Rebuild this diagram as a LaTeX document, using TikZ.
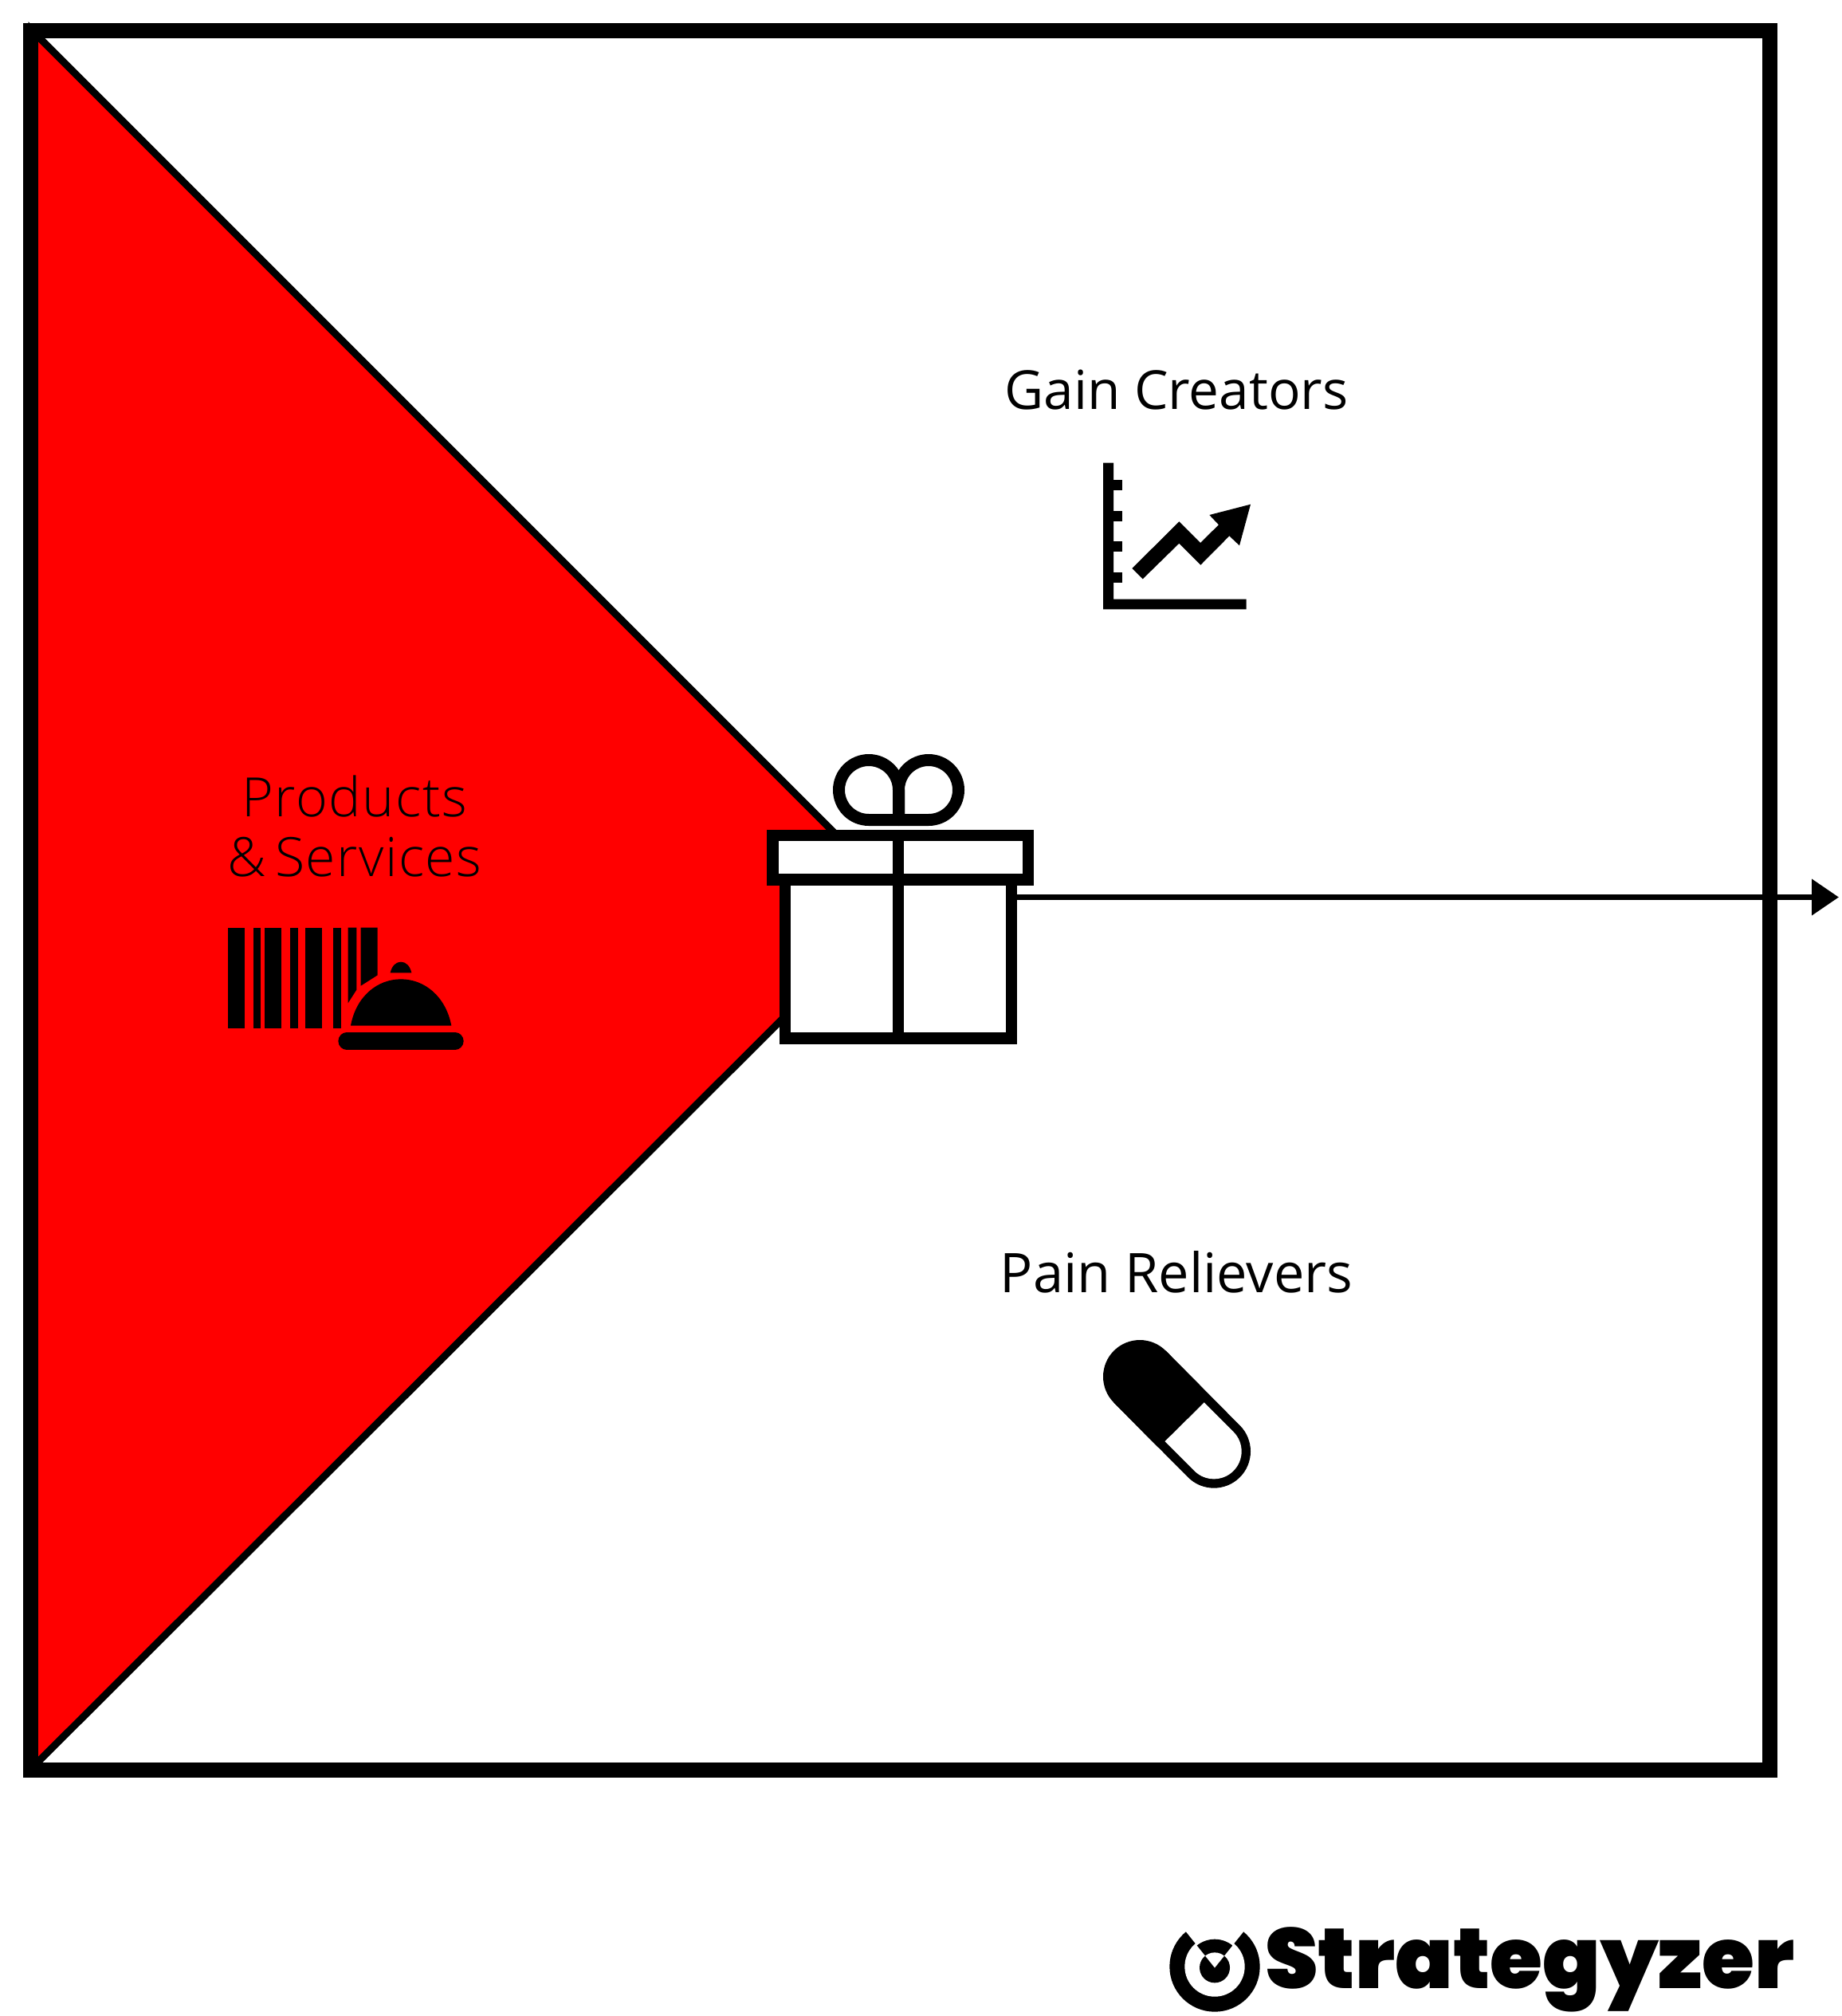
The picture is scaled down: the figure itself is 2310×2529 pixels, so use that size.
\documentclass[tikz,border=0pt]{standalone}
\usepackage{fontspec}
\usetikzlibrary{arrows.meta}
\setmainfont{Open Sans}
\newfontfamily\lightfont{Open Sans Light}[LetterSpace=2.2]
\newfontfamily\logofont{Poppins}[UprightFont=* Black]
\definecolor{wedgered}{RGB}{255,0,0}
\tikzstyle{canvasline}=[line width=19pt]
\tikzstyle{wedgeline}=[line width=9pt, fill=wedgered]
\tikzstyle{giftline}=[line width=14.5pt, fill=white]
\tikzstyle{arrowline}=[line width=7.5pt, -{Triangle[length=34pt, width=44pt]}]
\tikzstyle{caption}=[font=\fontsize{67.5}{67.5}\selectfont, inner sep=0pt, anchor=base]
\tikzstyle{lightcaption}=[font=\fontsize{68}{68}\lightfont, inner sep=0pt, anchor=base]
\begin{document}
\begin{tikzpicture}[x=1pt, y=-1pt]
            \useasboundingbox (0,0) rectangle (2310,2529);
            \fill[white] (0,0) rectangle (2310,2529);

            \draw[wedgeline] (40,38) -- (1131,1129) -- (40,2218) -- cycle;
            \draw[canvasline] (38.5,38.5) rectangle (2220.5,2220);

            \coordinate (valuestart) at (1276,1125.5);
            \coordinate (valueend) at (2307,1125.5);
            \draw[arrowline] (valuestart) -- (valueend);

            \draw[giftline] (985,1103.5) rectangle (1269,1302.5);
            \draw[giftline] (969.7,1048) rectangle (1290,1103.5);
            \draw[line width=14.5pt] (1127,1048) -- (1127,1302.5);
            \draw[line width=15pt, line join=round] (1127.5,1028.5) -- (1090,1028.5)
                arc (90:270:37.5) arc (270:360:37.5) -- cycle;
            \draw[line width=15pt, line join=round] (1127.5,1028.5) -- (1165,1028.5)
                arc (90:-90:37.5) arc (270:180:37.5) -- cycle;

            \node[caption] (gaincreators) at (1476,513) {Gain Creators};
            \node[caption, font=\fontsize{68.5}{68.5}\selectfont] (painrelievers) at (1476,1621) {Pain Relievers};
            \node[lightcaption] (products) at (445,1024) {Products};
            \node[lightcaption] (services) at (445,1099) {\&\,Services};

            \begin{scope}[shift={(260,1130)}, scale=1/3]
                \foreach \barleft/\barright in {78/142, 174/202, 215/279, 311/343, 368/432, 473/505}
                    \fill (\barleft,101) rectangle (\barright,480);
                \fill (530,101) -- (562,101) -- (562,335) -- (530,385) -- cycle;
                \fill (578,101) -- (641,101) -- (641,280) -- (578,320) -- cycle;
                \fill (540,470) .. controls (560,360) and (640,295) .. (729,295)
                    .. controls (818,295) and (898,360) .. (919,470) -- cycle;
                \fill (689,271) .. controls (695,245) and (710,230) .. (729,230)
                    .. controls (748,230) and (763,245) .. (769,271) -- cycle;
                \draw[line width=21.3pt, line cap=round] (525,528) -- (933,528);
            \end{scope}

            \begin{scope}[shift={(1360,560)}, scale=1/3]
                \fill (72,62) -- (111,62) -- (111,575) -- (611,575) -- (611,613) -- (72,613) -- cycle;
                \foreach \ticktop in {127, 242, 357, 473}
                    \fill (111,\ticktop) rectangle (143,\ticktop+39);
                \fill (181,459) -- (358,283) -- (438,363) -- (507,295) -- (472,258) -- (627,218)
                    -- (585,373) -- (547,337) -- (439,446) -- (358,365) -- (221,499) -- cycle;
            \end{scope}

            \begin{scope}[shift={(1360,1660)}, scale=1/3]
                \draw[line width=92pt, line cap=round] (210,201) -- (489,482);
                \draw[line width=69.3pt, line cap=round, white] (489,482) -- (378,371);
                \draw[line width=92pt] (210,201) -- (378,371);
            \end{scope}

            \begin{scope}[shift={(1440,2400)}, scale=1/3]
                \fill (252,201) circle (170);
                \fill[white] (252,201) circle (113);
                \fill (252,205) circle (57);
                \begin{scope}
                    \clip (252,205) -- (100,15) -- (404,15) -- cycle;
                    \fill[white] (252,201) circle (175);
                    \fill (252,205) circle (107);
                    \fill[white] (252,205) circle (57);
                \end{scope}
            \end{scope}

            \node[inner sep=0pt, anchor=base west, font=\fontsize{106.8}{106.8}\logofont] (logotext) at (1587,2494) {Strategyzer};
        \end{tikzpicture}
\end{document}
